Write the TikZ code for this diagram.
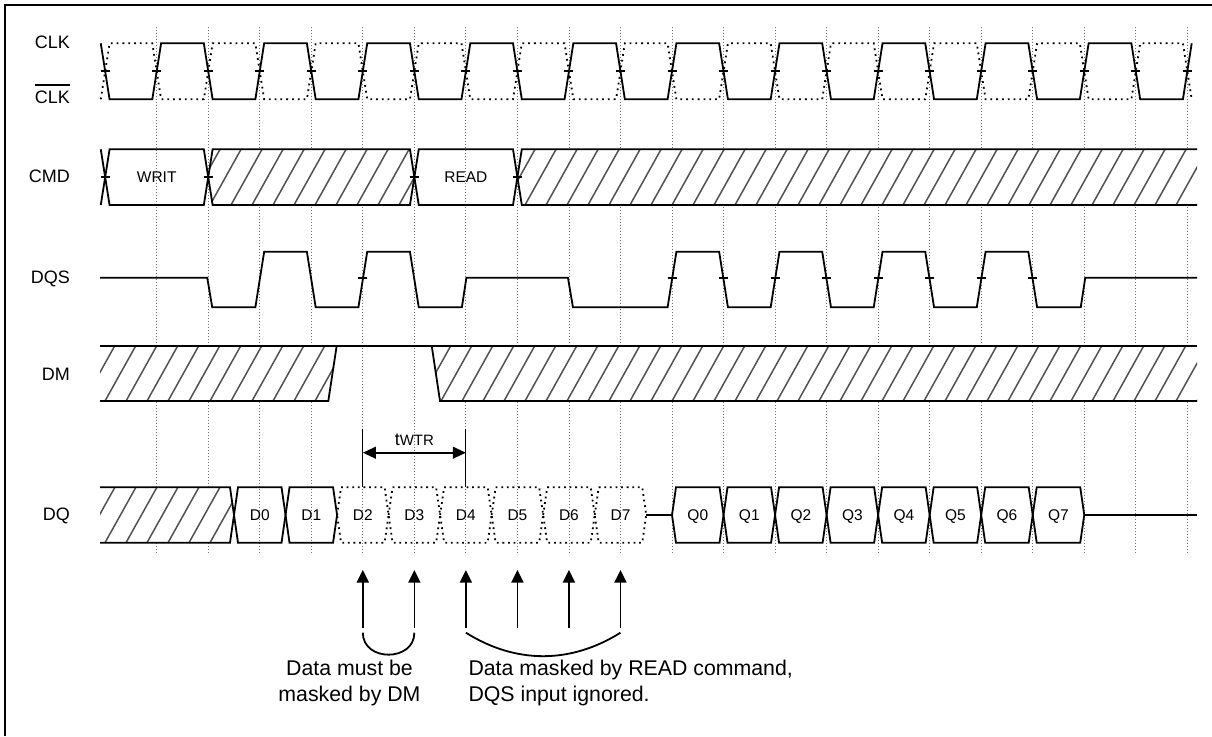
\documentclass[tikz,border=0pt]{standalone}
\usepackage{fontspec}
\setmainfont{Liberation Sans}
\usetikzlibrary{arrows.meta}
\def\G#1{(156.7+51.53*(#1))}
\def\H#1{(182.47+51.53*(#1))}
\def\e{4.4}
\newcommand{\lblfont}{\fontsize{18}{21}\selectfont}
\newcommand{\boxfont}{\fontsize{15.5}{18}\selectfont}
\newcommand{\notefont}{\fontsize{21.3}{25}\selectfont}
\newcommand{\hatchfill}[4]{% path, xstart, xend, bottom
  \begin{scope}
    \fill[white] #1;
    \clip #1;
    \foreach \hx in {#2,...,#3} \draw[hatchln] ({\hx*21},#4) -- ++(31,-55.6);
  \end{scope}}
\begin{document}
\begin{tikzpicture}[x=1pt,y=-1pt,
  sig/.style={line width=1.8pt,line join=miter},
  dsig/.style={line width=1.8pt,dash pattern=on 1.8pt off 4pt},
  dbox/.style={line width=1.8pt,dash pattern=on 1.8pt off 3.8pt},
  ticks/.style={line width=1.6pt},
  gridln/.style={line width=0.8pt,black!55,dash pattern=on 0.8pt off 2.2pt},
  hatchln/.style={line width=1.5pt,black!68},
  lbl/.style={inner sep=0pt,font=\lblfont},
  btxt/.style={inner sep=0pt,font=\boxfont},
  note/.style={inner sep=0pt,font=\notefont},
  uparrow/.style={line width=1.7pt,-{Triangle[length=12.5pt,width=12pt]}},
  dimarrow/.style={line width=1.8pt,{Triangle[length=13pt,width=11.7pt]}-{Triangle[length=13pt,width=11.7pt]}},
  thinln/.style={line width=1.2pt},
  frame/.style={line width=2pt}]
\useasboundingbox (0,0) rectangle (1212,736);
\draw[frame] (5,736) -- (5,5) -- (1212,5);
% grid
\foreach \k in {0,...,20} \draw[gridln] ({\G{\k}},26.7) -- ({\G{\k}},553.5);
% labels
\node[lbl,anchor=base east] (lclk) at (70,48.3) {CLK};
\node[lbl,anchor=base east] (lclkb) at (70,103.3) {CLK};
\draw[line width=1.3pt] ([yshift=5.5pt]lclkb.north west) -- ([yshift=5.5pt]lclkb.north east);
\node[lbl,anchor=base east] (lcmd) at (70,182.7) {CMD};
\node[lbl,anchor=base east] (ldqs) at (70,283.3) {DQS};
\node[lbl,anchor=base east] (ldm) at (70,380) {DM};
\node[lbl,anchor=base east] (ldq) at (70,520.7) {DQ};
% CLK
\draw[sig] ({\G{-1}-\e},43.3)
  \foreach \j in {0,...,9}{
    -- ({\G{2*\j-1}+\e},99.3) -- ({\G{2*\j}-\e},99.3) -- ({\G{2*\j}+\e},43.3) -- ({\G{2*\j+1}-\e},43.3)
  }
  -- ({\G{19}+\e},99.3) -- ({\G{20}-\e},99.3) -- ({\G{20}+\e},43.3);
\draw[dsig] ({\G{-1}-\e},99.3)
  \foreach \j in {0,...,9}{
    -- ({\G{2*\j-1}+\e},43.3) -- ({\G{2*\j}-\e},43.3) -- ({\G{2*\j}+\e},99.3) -- ({\G{2*\j+1}-\e},99.3)
  }
  -- ({\G{19}+\e},43.3) -- ({\G{20}-\e},43.3) -- ({\G{20}+\e},99.3);
\foreach \k in {-1,...,20} \draw[ticks] ({\G{\k}-4.5},71) -- ++(9,0);
% CMD
\hatchfill{({\G1},177.2) -- ({\G1+\e},149.3) -- ({\G5-\e},149.3) -- ({\G5},177.2) -- ({\G5-\e},205) -- ({\G1+\e},205) -- cycle}{8}{20}{205}
\hatchfill{({\G7},177.2) -- ({\G7+\e},149.3) -- (1197,149.3) -- (1197,205) -- ({\G7+\e},205) -- cycle}{23}{57}{205}
\draw[sig] ({\G{-1}-\e},149.3) -- ({\G{-1}+\e},205) -- ({\G1-\e},205) -- ({\G1+\e},149.3) -- ({\G5-\e},149.3) -- ({\G5+\e},205) -- ({\G7-\e},205) -- ({\G7+\e},149.3) -- (1197,149.3);
\draw[sig] ({\G{-1}-\e},205) -- ({\G{-1}+\e},149.3) -- ({\G1-\e},149.3) -- ({\G1+\e},205) -- ({\G5-\e},205) -- ({\G5+\e},149.3) -- ({\G7-\e},149.3) -- ({\G7+\e},205) -- (1197,205);
\foreach \k in {-1,1,5,7} \draw[ticks] ({\G{\k}-4.5},177.2) -- ++(9,0);
\node[btxt,anchor=base] (twrit) at ({\G0},182.7) {WRIT};
\node[btxt,anchor=base] (tread) at ({\G6},182.7) {READ};
% DQS
\draw[sig] (100,277.7) -- ({\G1-1},277.7) -- ({\G1+4},307.3) -- ({\G2-\e},307.3) -- ({\G2+\e},251.7)
  -- ({\G3-\e},251.7) -- ({\G3+\e},307.3) -- ({\G4-\e},307.3) -- ({\G4+\e},251.7)
  -- ({\G5-\e},251.7) -- ({\G5+\e},307.3) -- ({\G6-4},307.3) -- ({\G6+0.5},277.7)
  -- ({\G8-1},277.7) -- ({\G8+4},307.3)
  \foreach \j in {5,6,7}{ -- ({\G{2*\j}-\e},307.3) -- ({\G{2*\j}+\e},251.7) -- ({\G{2*\j+1}-\e},251.7) -- ({\G{2*\j+1}+\e},307.3) }
  -- ({\G{16}-\e},307.3) -- ({\G{16}+\e},251.7) -- ({\G{17}-\e},251.7) -- ({\G{17}+\e},307.3)
  -- ({\G{18}-3.5},307.3) -- ({\G{18}+1},277.7) -- (1197,277.7);
\foreach \k in {4,10,11,12,13,14,15,16,17} \draw[ticks] ({\G{\k}-4.5},277.7) -- ++(9,0);
% DM
\hatchfill{(100,345.7) -- (336.7,345.7) -- (328.3,401) -- (100,401) -- cycle}{3}{16}{401}
\hatchfill{(431.7,345.7) -- (1197,345.7) -- (1197,401) -- (440,401) -- cycle}{19}{57}{401}
\draw[sig] (100,345.7) -- (1197,345.7);
\draw[sig] (100,401) -- (328.3,401) -- (336.7,345.7);
\draw[sig] (431.7,345.7) -- (440,401) -- (1197,401);
% DQ
\hatchfill{(100,487.3) -- ({\H1-4},487.3) -- ({\H1},515) -- ({\H1-4},542.7) -- (100,542.7) -- cycle}{3}{11}{542.7}
\draw[sig] (100,487.3) -- ({\H1-4},487.3) -- ({\H1},515) -- ({\H1-4},542.7) -- (100,542.7);
\foreach \i in {0,1}{
  \draw[sig] ({\H{\i+1}},515) -- ({\H{\i+1}+4},487.3) -- ({\H{\i+2}-4},487.3) -- ({\H{\i+2}},515) -- ({\H{\i+2}-4},542.7) -- ({\H{\i+1}+4},542.7) -- cycle;
}
\foreach \i in {2,...,7}{
  \draw[dbox] ({\H{\i+1}},515) -- ({\H{\i+1}+4},487.3) -- ({\H{\i+2}-4},487.3) -- ({\H{\i+2}},515) -- ({\H{\i+2}-4},542.7) -- ({\H{\i+1}+4},542.7) -- cycle;
}
\foreach \i in {0,...,7}{
  \node[btxt,anchor=base] (d\i) at ({\G{\i+2}},520.7) {D\i};
}
\draw[sig] ({\H9},515) -- ({\G{10}},515);
\foreach \i in {0,...,7}{
  \draw[sig] ({\G{\i+10}},515) -- ({\G{\i+10}+4},487.3) -- ({\G{\i+11}-4},487.3) -- ({\G{\i+11}},515) -- ({\G{\i+11}-4},542.7) -- ({\G{\i+10}+4},542.7) -- cycle;
  \node[btxt,anchor=base] (q\i) at ({\H{\i+10}},520.7) {Q\i};
}
\draw[sig] ({\G{18}},515) -- (1197,515);
% tWTR
\coordinate (wa) at ({\G4},429.3);
\coordinate (wb) at ({\G6},429.3);
\coordinate (wa2) at ({\G4},487.3);
\coordinate (wb2) at ({\G6},487.3);
\draw[thinln] (wa) -- (wa2);
\draw[thinln] (wb) -- (wb2);
\coordinate (wal) at ({\G4},452.7);
\coordinate (wbl) at ({\G6},452.7);
\draw[dimarrow] (wal) -- (wbl);
\node[inner sep=0pt,anchor=base] (twtr) at ({\G5},445) {\fontsize{18}{20}\selectfont t\fontsize{15}{17}\selectfont WTR};
% bottom arrows
\foreach \k in {4,...,9}{
  \coordinate (at\k) at ({\G{\k}},570);
  \coordinate (ab\k) at ({\G{\k}},628.3);
  \draw[uparrow] (ab\k) -- (at\k);
}
\coordinate (l1) at ({\G4},632.7);
\coordinate (l2) at ({\G5},632.7);
\draw[sig] (l1) .. controls ({\G4},662) and ({\G5},662) .. (l2);
\coordinate (r1) at ({\G6},632.7);
\coordinate (r2) at ({\G9},632.7);
\draw[sig] (r1) .. controls ({\G6+50},664) and ({\G9-50},664) .. (r2);
\node[note,anchor=base] (n1) at (349.5,675) {Data must be};
\node[note,anchor=base] (n2) at (349.5,701.7) {masked by DM};
\node[note,anchor=base west] (n3) at (468.3,675) {Data masked by READ command,};
\node[note,anchor=base west] (n4) at (468.3,701.7) {DQS input ignored.};
\end{tikzpicture}
\end{document}
